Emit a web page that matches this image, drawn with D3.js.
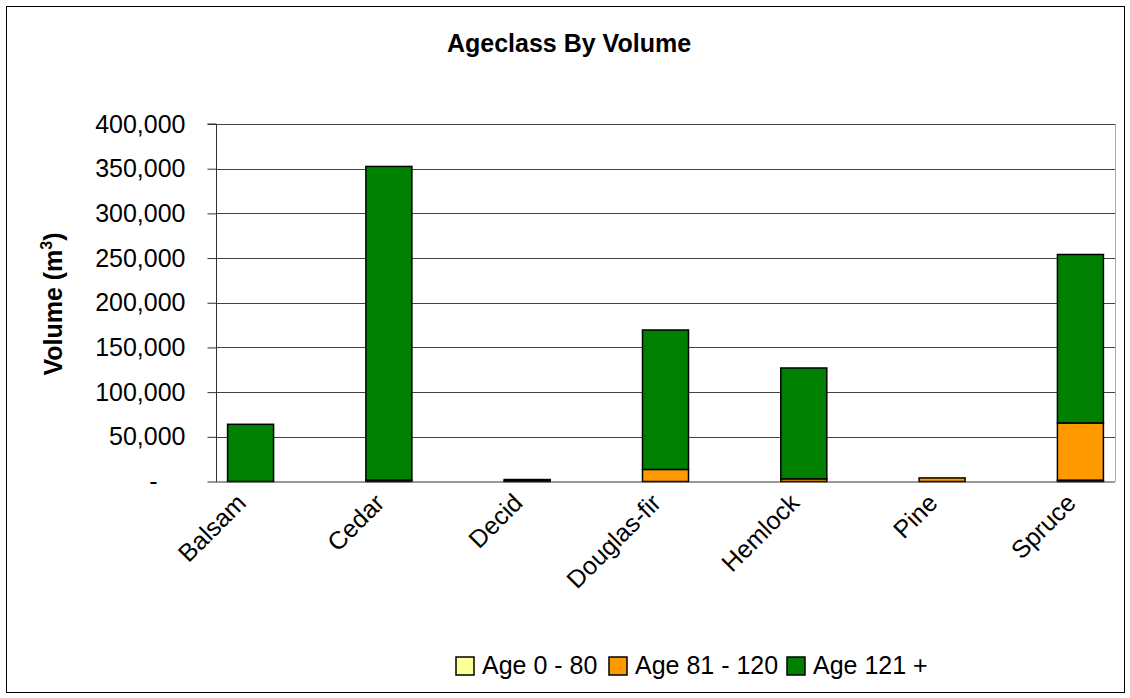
<!DOCTYPE html>
<html>
<head>
<meta charset="utf-8">
<script src="https://cdn.jsdelivr.net/npm/d3@7"></script>
<style>
  body { margin: 0; background: #fff; }
  text { font-family: Arial, "Liberation Sans", Helvetica, sans-serif; fill: #000; }
</style>
</head>
<body>
<svg id="chart" width="1130" height="698"></svg>
<script>
// chart values
var categories = ['Balsam', 'Cedar', 'Decid', 'Douglas-fir', 'Hemlock', 'Pine', 'Spruce'];
var seriesNames = ['Age 0 - 80', 'Age 81 - 120', 'Age 121 +'];
var age0to80 = [0, 0, 0, 0, 0, 0, 1500];
var age81to120 = [0, 1500, 1000, 13500, 3000, 4000, 64000];
var age121plus = [64000, 351000, 1200, 156000, 124000, 0, 188500];
var yTicks = [0, 50000, 100000, 150000, 200000, 250000, 300000, 350000, 400000];
var colors = ['#FFFF99', '#FF9900', '#008000'];

var svg = d3.select('#chart');

var plot = { left: 216, right: 1115, top: 124, bottom: 481.5 };

// outer frame
svg.append('rect')
  .attr('x', 6.5).attr('y', 6.5)
  .attr('width', 1118).attr('height', 686)
  .attr('fill', '#fff')
  .attr('stroke', '#000')
  .attr('stroke-width', 1);

var rows = categories.map((c, i) => ({
  cat: c,
  'Age 0 - 80': age0to80[i],
  'Age 81 - 120': age81to120[i],
  'Age 121 +': age121plus[i]
}));

var x = d3.scalePoint().domain(categories).range([plot.left, plot.right]).padding(0.25);
var y = d3.scaleLinear().domain([0, 400000]).range([plot.bottom, plot.top]);
var color = d3.scaleOrdinal().domain(seriesNames).range(colors);
var barWidth = 46;

// gridlines
svg.append('g')
  .selectAll('line')
  .data(yTicks.filter(d => d > 0))
  .enter().append('line')
  .attr('x1', plot.left).attr('x2', plot.right)
  .attr('y1', d => Math.round(y(d)) + 0.5).attr('y2', d => Math.round(y(d)) + 0.5)
  .attr('stroke', '#444')
  .attr('stroke-width', 1);

// right edge of plot area
svg.append('line')
  .attr('x1', plot.right + 0.5).attr('x2', plot.right + 0.5)
  .attr('y1', plot.top).attr('y2', plot.bottom)
  .attr('stroke', '#aaa');

// y axis
var fmt = d3.format(',');
var yAxis = d3.axisLeft(y)
  .tickValues(yTicks)
  .tickSize(9)
  .tickPadding(22)
  .tickFormat(d => d === 0 ? '-' : fmt(d));

var yG = svg.append('g')
  .attr('transform', `translate(${plot.left + 0.5},0)`)
  .call(yAxis);
yG.select('.domain').attr('stroke', '#333').attr('d', `M-9,${plot.top}H0V${plot.bottom}`);
yG.selectAll('.tick line').attr('stroke', '#333');
yG.selectAll('.tick text')
  .attr('font-size', 25)
  .attr('font-family', 'Arial, "Liberation Sans", sans-serif')
  .attr('fill', '#000');
// the zero label sits near the middle of the label column
yG.selectAll('.tick').filter(d => d === 0).select('text').attr('dx', -28);

// stacked bars
var stack = d3.stack().keys(seriesNames);
var layers = stack(rows);

var barGroup = svg.append('g').attr('class', 'bars');
barGroup.selectAll('g.layer')
  .data(layers)
  .enter().append('g')
  .attr('class', 'layer')
  .attr('fill', d => color(d.key))
  .selectAll('rect')
  .data(d => d.filter(p => p[1] - p[0] > 0).map(p => ({ p: p, cat: p.data.cat })))
  .enter().append('rect')
  .attr('x', d => x(d.cat) - barWidth / 2)
  .attr('width', barWidth)
  .attr('y', d => y(d.p[1]))
  .attr('height', d => y(d.p[0]) - y(d.p[1]))
  .attr('stroke', '#000')
  .attr('stroke-width', 1.5);

// x axis baseline
svg.append('line')
  .attr('x1', plot.left).attr('x2', plot.right)
  .attr('y1', plot.bottom + 0.5).attr('y2', plot.bottom + 0.5)
  .attr('stroke', '#333');

// category labels, rotated
svg.append('g')
  .selectAll('text')
  .data(categories)
  .enter().append('text')
  .attr('transform', d => `translate(${x(d) - 3},${plot.bottom + 23}) rotate(-45)`)
  .attr('text-anchor', 'end')
  .attr('font-size', 25)
  .text(d => d);

// title
svg.append('text')
  .attr('x', 569).attr('y', 52)
  .attr('text-anchor', 'middle')
  .attr('font-size', 25)
  .attr('font-weight', 'bold')
  .text('Ageclass By Volume');

// y axis title
var yt = svg.append('text')
  .attr('transform', 'translate(62,304) rotate(-90)')
  .attr('text-anchor', 'middle')
  .attr('font-size', 25)
  .attr('font-weight', 'bold');
yt.append('tspan').text('Volume (m');
yt.append('tspan').attr('font-size', 16).attr('dy', -10).text('3');
yt.append('tspan').attr('dy', 10).text(')');

// legend
var legendX = [456, 609, 787];
var legend = svg.append('g').selectAll('g')
  .data(seriesNames)
  .enter().append('g')
  .attr('transform', (d, i) => `translate(${legendX[i]},657)`);
legend.append('rect')
  .attr('width', 18).attr('height', 18)
  .attr('fill', d => color(d))
  .attr('stroke', '#000')
  .attr('stroke-width', 1.5);
legend.append('text')
  .attr('x', 26).attr('y', 17)
  .attr('font-size', 25)
  .text(d => d);
</script>
</body>
</html>
